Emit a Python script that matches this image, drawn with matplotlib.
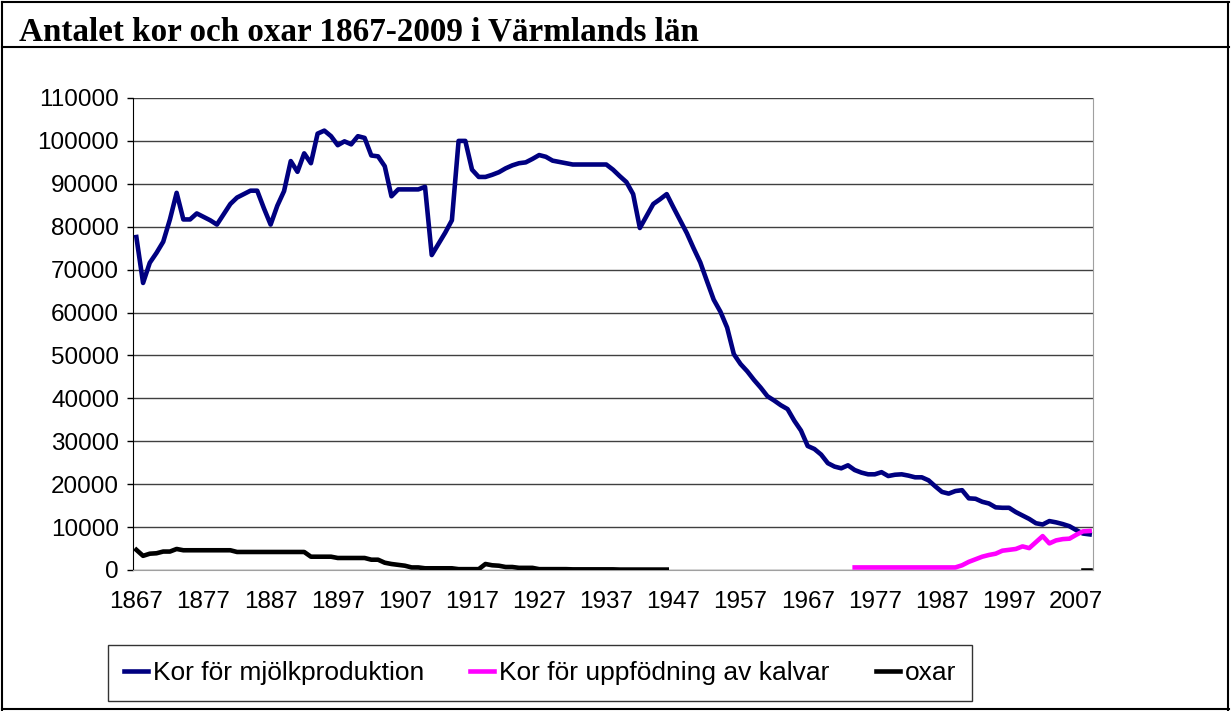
import numpy as np
import matplotlib
matplotlib.use("Agg")
import matplotlib.pyplot as plt
from matplotlib.lines import Line2D

plt.rcParams['font.family'] = ['Liberation Sans', 'DejaVu Sans']

title = "Antalet kor och oxar 1867-2009 i Värmlands län"
years = list(range(1867, 2010))

mjolk = [
    77600, 66900, 71600, 73900, 76500, 81700, 87900, 81700, 81700, 83100,   # 1867-1876
    82300, 81500, 80500, 82900, 85300, 86800, 87600, 88400, 88400, 84300,   # 1877-1886
    80500, 84900, 88300, 95300, 92800, 97100, 94800, 101700, 102400, 101100,  # 1887-1896
    99000, 99900, 99200, 101100, 100700, 96600, 96400, 94100, 87100, 88700,  # 1897-1906
    88700, 88700, 88700, 89300, 73400, 76000, 78600, 81500, 100000, 100000,  # 1907-1916
    93300, 91600, 91600, 92100, 92700, 93600, 94300, 94800, 95000, 95800,   # 1917-1926
    96700, 96300, 95400, 95100, 94800, 94500, 94500, 94500, 94500, 94500,   # 1927-1936
    94500, 93300, 91800, 90400, 87600, 79700, 82500, 85300, 86400, 87600,   # 1937-1946
    84500, 81500, 78500, 75000, 71700, 67300, 63000, 60200, 56500, 50300,   # 1947-1956
    48000, 46300, 44300, 42500, 40500, 39500, 38400, 37500, 34800, 32500,   # 1957-1966
    28900, 28200, 26900, 24900, 24100, 23700, 24400, 23300, 22700, 22300,   # 1967-1976
    22300, 22800, 21900, 22200, 22300, 22000, 21600, 21600, 20900, 19500,   # 1977-1986
    18200, 17800, 18400, 18600, 16700, 16600, 15900, 15500, 14600, 14500,   # 1987-1996
    14500, 13500, 12700, 11900, 10900, 10600, 11400, 11100, 10700, 10200,   # 1997-2006
    9300, 8500, 8300,                                                       # 2007-2009
]

kalv_years = list(range(1974, 2010))
kalv = [
    600, 600, 600, 600, 600, 600, 600, 600, 600, 600,      # 1974-1983
    600, 600, 600, 600, 600, 600, 1100, 1900, 2500, 3100,  # 1984-1993
    3500, 3800, 4500, 4700, 4900, 5500, 5100, 6500, 7900, 6200,  # 1994-2003
    6900, 7200, 7300, 8200, 9000, 9100,                    # 2004-2009
]

oxar_years1 = list(range(1867, 1947))
oxar1 = [
    4700, 3300, 3800, 3900, 4300, 4300, 4900, 4600, 4600, 4600,   # 1867-1876
    4600, 4600, 4600, 4600, 4600, 4200, 4200, 4200, 4200, 4200,   # 1877-1886
    4200, 4200, 4200, 4200, 4200, 4200, 3100, 3100, 3100, 3100,   # 1887-1896
    2800, 2800, 2800, 2800, 2800, 2400, 2400, 1700, 1400, 1200,   # 1897-1906
    1000, 600, 600, 400, 400, 400, 400, 400, 200, 200,            # 1907-1916
    200, 200, 1400, 1100, 1000, 700, 700, 500, 500, 500,          # 1917-1926
    200, 200, 200, 200, 200, 150, 150, 150, 150, 150,             # 1927-1936
    150, 150, 100, 100, 100, 100, 100, 100, 100, 100,             # 1937-1946
]
oxar_years2 = [2008, 2009]
oxar2 = [100, 100]

W, H = 1231, 711
fig = plt.figure(figsize=(W / 100, H / 100), dpi=100)

# outer frame and title row
for (x0, y0, x1, y1) in [(2, 2, 1229, 2), (2, 2, 2, 711), (1228, 2, 1228, 711),
                         (2, 47, 1229, 47), (2, 709, 1229, 709)]:
    fig.add_artist(Line2D([x0 / W, x1 / W], [1 - y0 / H, 1 - y1 / H],
                          color='black', lw=1.5, transform=fig.transFigure))
fig.text(19 / W, 1 - 32 / H, title, fontsize=23.9, fontweight='bold',
         family=['Liberation Serif', 'DejaVu Serif'], va='center', ha='left')

ax = fig.add_axes([133 / W, 1 - 570 / H, (1093 - 133) / W, (570 - 98) / H])
ax.plot(years, mjolk, color='#000080', lw=3.3, solid_joinstyle='round',
        label='Kor för mjölkproduktion', zorder=3)
ax.plot(kalv_years, kalv, color='#FF00FF', lw=3.3, solid_joinstyle='round',
        label='Kor för uppfödning av kalvar', zorder=3)
ax.plot(oxar_years1, oxar1, color='black', lw=3.3, solid_joinstyle='round',
        label='oxar', zorder=3)
ax.plot(oxar_years2, oxar2, color='black', lw=3.3, zorder=3)

ax.set_xlim(1866.5, 2009.5)
ax.set_ylim(0, 110000)
ax.set_yticks(range(0, 110001, 10000))
ax.set_yticklabels([str(v) for v in range(0, 110001, 10000)])
ax.set_xticks(range(1867, 2008, 10))
ax.yaxis.grid(True, color='#404040', lw=1.0)
ax.set_axisbelow(True)
ax.tick_params(axis='y', length=4, width=1, pad=6, labelsize=17.5, color='black')
ax.tick_params(axis='x', length=0, pad=15, labelsize=17.5)
ax.spines['left'].set_color('black')
ax.spines['bottom'].set_color('#a0a0a0')
ax.spines['right'].set_color('#a0a0a0')
ax.spines['top'].set_visible(False)

leg = fig.legend(loc='center', bbox_to_anchor=(540 / W, 1 - 673 / H), ncol=3,
                 fontsize=19, frameon=True, fancybox=False, edgecolor='black',
                 handlelength=0.9, handletextpad=0.2, columnspacing=1.75,
                 borderpad=0.6, borderaxespad=0.0)
leg.get_frame().set_linewidth(1.0)

fig.savefig('out.png', dpi=100)
